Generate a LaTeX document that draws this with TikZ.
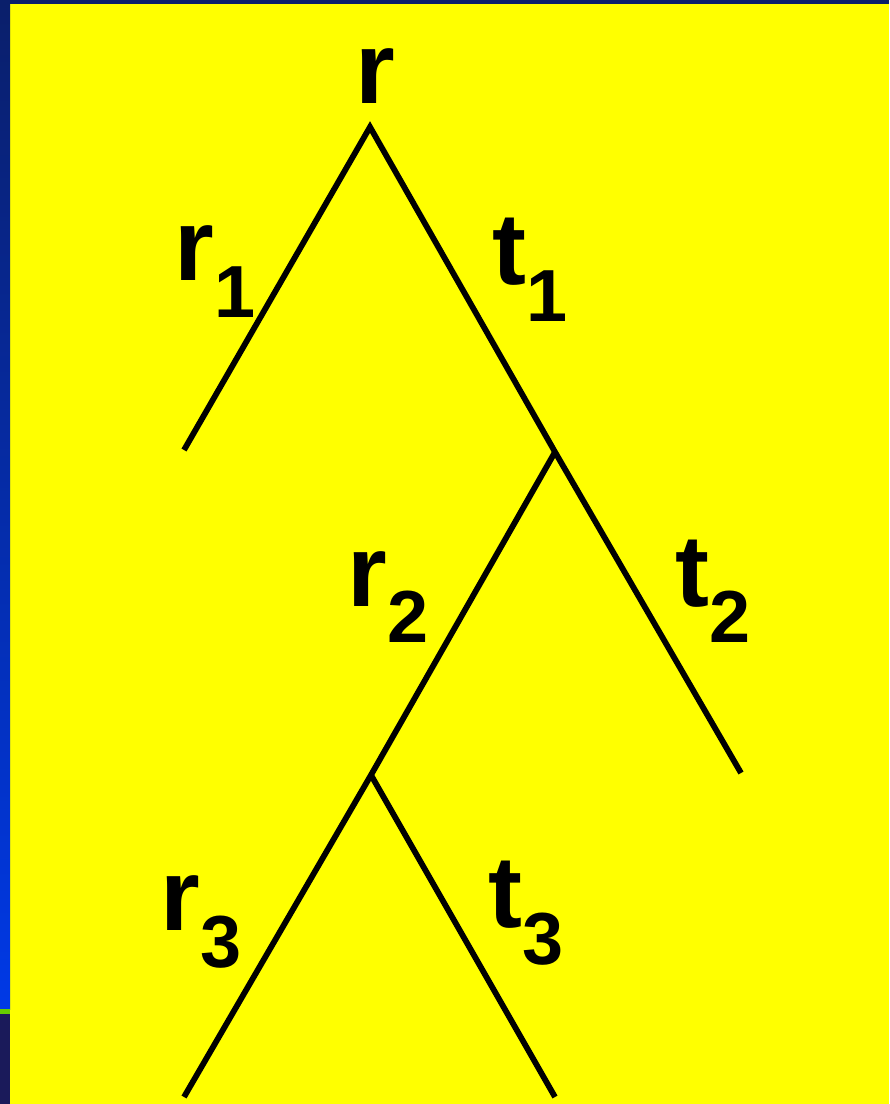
\documentclass[tikz,border=0pt]{standalone}
\usepackage{fontspec}
\setmainfont{Liberation Sans}
\usetikzlibrary{positioning, calc}
\definecolor{slideyellow}{RGB}{255,255,0}
\definecolor{navy}{RGB}{10,31,107}
\definecolor{brightblue}{RGB}{0,57,230}
\definecolor{barsgreen}{RGB}{102,204,0}
\definecolor{darkband}{RGB}{26,26,90}
\newcommand{\branchlbl}[2]{{\fontsize{58}{58}\selectfont #1}\raisebox{-0.74cm}{\fontsize{42}{42}\selectfont #2}}

\begin{document}
\begin{tikzpicture}[
    x=0.02cm, y=-0.02cm,
    branch/.style={line width=3.3pt},
    lbl/.style={anchor=base west, inner sep=0pt, font=\bfseries}
]
\useasboundingbox (0,0) rectangle (889,1104);
% Slide background
\fill[navy] (0,0) rectangle (889,4);
\fill[slideyellow] (10,4) rectangle (889,1104);
\shade[top color=navy, bottom color=brightblue] (0,4) rectangle (10,1009);
\fill[barsgreen] (0,1009) rectangle (10,1014);
\fill[darkband] (0,1014) rectangle (10,1104);
% Tree points
\coordinate (root) at (370,127);
\coordinate (leafA) at (184,450);
\coordinate (mid) at (555,452);
\coordinate (leafB) at (741,773);
\coordinate (low) at (371,775);
\coordinate (leafC) at (184,1097);
\coordinate (leafD) at (555,1097);
% Branches
\draw[branch] (leafA) -- (root) -- (mid) -- (leafB);
\draw[branch] (mid) -- (low) -- (leafC);
\draw[branch] (low) -- (leafD);
% Labels
\node[lbl] (rtop) at (355,104) {\fontsize{58}{58}\selectfont r};
\node[lbl] (r1) at (174,281) {\branchlbl{r}{1}};
\node[lbl] (t1) at (492,285) {\branchlbl{t}{1}};
\node[lbl] (r2) at (347,606) {\branchlbl{r}{2}};
\node[lbl] (t2) at (675,606) {\branchlbl{t}{2}};
\node[lbl] (r3) at (160,930) {\branchlbl{r}{3}};
\node[lbl] (t3) at (488,927) {\branchlbl{t}{3}};
\end{tikzpicture}
\end{document}
